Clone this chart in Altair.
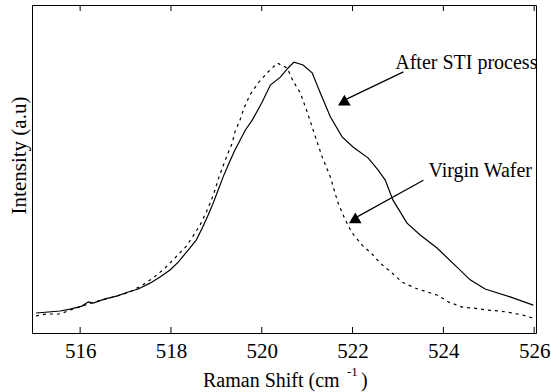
import altair as alt
import pandas as pd

# Raman spectra of the Si peak, intensity in arbitrary units
sti_shift = [515.03, 515.30, 515.56, 515.78, 516.04, 516.18, 516.29, 516.55, 516.82, 517.06,
             517.28, 517.54, 517.76, 517.98, 518.16, 518.38, 518.56, 518.69, 518.82, 518.93,
             519.04, 519.15, 519.28, 519.41, 519.64, 519.79, 520.01, 520.19, 520.41, 520.58,
             520.71, 520.91, 521.11, 521.29, 521.51, 521.77, 522.01, 522.34, 522.56, 522.72,
             522.89, 523.20, 523.49, 523.86, 524.30, 524.59, 524.92, 525.47, 525.98]
sti_intensity = [0.061, 0.064, 0.067, 0.073, 0.082, 0.095, 0.091, 0.104, 0.113, 0.125,
                 0.134, 0.152, 0.171, 0.192, 0.216, 0.253, 0.284, 0.320, 0.360, 0.396,
                 0.436, 0.476, 0.518, 0.558, 0.619, 0.649, 0.704, 0.756, 0.780, 0.808,
                 0.826, 0.817, 0.793, 0.732, 0.659, 0.598, 0.567, 0.534, 0.497, 0.466,
                 0.405, 0.335, 0.299, 0.259, 0.201, 0.162, 0.134, 0.110, 0.085]

virgin_shift = [515.03, 515.27, 515.56, 515.78, 516.04, 516.33, 516.82, 517.10, 517.37, 517.61,
                517.87, 518.09, 518.34, 518.49, 518.64, 518.78, 518.89, 518.97, 519.06, 519.24,
                519.35, 519.41, 519.52, 519.61, 519.74, 519.92, 520.12, 520.34, 520.56, 520.69,
                520.85, 521.00, 521.11, 521.33, 521.51, 521.68, 521.84, 521.99, 522.21, 522.43,
                522.61, 522.87, 523.09, 523.38, 523.64, 523.86, 524.11, 524.41, 524.66, 524.96,
                525.25, 525.52, 525.74, 525.96]
virgin_intensity = [0.052, 0.058, 0.058, 0.070, 0.082, 0.095, 0.113, 0.125, 0.146, 0.168,
                    0.198, 0.229, 0.265, 0.296, 0.329, 0.369, 0.405, 0.436, 0.476, 0.543,
                    0.579, 0.613, 0.649, 0.686, 0.726, 0.762, 0.793, 0.823, 0.808, 0.768,
                    0.732, 0.674, 0.628, 0.537, 0.476, 0.396, 0.345, 0.305, 0.268, 0.241,
                    0.213, 0.183, 0.155, 0.137, 0.125, 0.116, 0.095, 0.079, 0.076, 0.070,
                    0.067, 0.061, 0.055, 0.046]

tick_values = [516, 518, 520, 522, 524, 526]

# Annotation labels with arrows (text anchor, arrow tail, arrow head)
label_text = ["After STI process", "Virgin Wafer"]
label_x = [522.94, 523.67]
label_y = [0.805, 0.476]
arrow_tail_x = [523.12, 523.56]
arrow_tail_y = [0.796, 0.466]
arrow_head_x = [521.82, 522.06]
arrow_head_y = [0.710, 0.351]

FONT = "'Liberation Serif', 'Times New Roman', Times, serif"

sti_df = pd.DataFrame({"shift": sti_shift, "intensity": sti_intensity})
virgin_df = pd.DataFrame({"shift": virgin_shift, "intensity": virgin_intensity})
tick_df = pd.DataFrame({"shift": tick_values})
ann_df = pd.DataFrame({
    "text": label_text, "lx": label_x, "ly": label_y,
    "tx": arrow_tail_x, "ty": arrow_tail_y, "hx": arrow_head_x, "hy": arrow_head_y,
})

x_scale = alt.Scale(domain=[514.94, 526.04], nice=False, zero=False)
y_scale = alt.Scale(domain=[0, 1], nice=False, zero=False)

x_axis = alt.Axis(values=tick_values, title=None, grid=False, domain=False, ticks=False,
                  tickSize=0, labelFont=FONT, labelFontSize=21, labelColor="black",
                  labelPadding=7, labelFlush=False, labelOverlap=False, format="d")

sti_line = alt.Chart(sti_df).mark_line(color="black", strokeWidth=1.2).encode(
    x=alt.X("shift:Q", scale=x_scale, axis=x_axis),
    y=alt.Y("intensity:Q", scale=y_scale, axis=None),
)

virgin_line = alt.Chart(virgin_df).mark_line(
    color="black", strokeWidth=1.2, strokeDash=[3, 4]
).encode(
    x=alt.X("shift:Q", scale=x_scale),
    y=alt.Y("intensity:Q", scale=y_scale),
)

# Inward-pointing ticks on the bottom and top edges of the frame
bottom_ticks = alt.Chart(tick_df).mark_rule(color="black", strokeWidth=1).encode(
    x=alt.X("shift:Q", scale=x_scale), y=alt.value(328), y2=alt.value(322)
)
top_ticks = alt.Chart(tick_df).mark_rule(color="black", strokeWidth=1).encode(
    x=alt.X("shift:Q", scale=x_scale), y=alt.value(0), y2=alt.value(6)
)

arrows = alt.Chart(ann_df).mark_rule(color="black", strokeWidth=1.2).encode(
    x=alt.X("tx:Q", scale=x_scale), y=alt.Y("ty:Q", scale=y_scale),
    x2="hx:Q", y2="hy:Q",
)
heads = alt.Chart(ann_df).mark_point(
    shape="triangle-up", filled=True, size=160, color="black", opacity=1
).encode(
    x=alt.X("hx:Q", scale=x_scale), y=alt.Y("hy:Q", scale=y_scale)
)
labels = alt.Chart(ann_df).mark_text(
    align="left", baseline="alphabetic", font=FONT, fontSize=20, color="black"
).encode(
    x=alt.X("lx:Q", scale=x_scale), y=alt.Y("ly:Q", scale=y_scale), text="text:N"
)

# Axis titles
y_title = alt.Chart(pd.DataFrame({"t": ["Intensity (a.u)"]})).mark_text(
    angle=270, align="center", baseline="alphabetic", font=FONT, fontSize=21, color="black"
).encode(x=alt.value(-6.5), y=alt.value(150.5), text="t:N")

x_title_main = alt.Chart(pd.DataFrame({"t": ["Raman Shift (cm"]})).mark_text(
    align="left", baseline="alphabetic", font=FONT, fontSize=20, color="black"
).encode(x=alt.value(171), y=alt.value(382), text="t:N")
x_title_sup = alt.Chart(pd.DataFrame({"t": ["-1"]})).mark_text(
    align="left", baseline="alphabetic", font=FONT, fontSize=13, color="black"
).encode(x=alt.value(315), y=alt.value(371), text="t:N")
x_title_close = alt.Chart(pd.DataFrame({"t": [")"]})).mark_text(
    align="left", baseline="alphabetic", font=FONT, fontSize=20, color="black"
).encode(x=alt.value(329), y=alt.value(382), text="t:N")

chart = alt.layer(
    sti_line, virgin_line, bottom_ticks, top_ticks, arrows, heads, labels,
    y_title, x_title_main, x_title_sup, x_title_close,
).properties(
    width=504, height=328,
    autosize=alt.AutoSizeParams(type="none"),
    padding={"left": 32, "top": 5, "right": 15, "bottom": 59},
    background="white",
).configure_view(
    stroke="black", strokeWidth=1
)

chart.save("out.html", embed_options={"renderer": "svg", "actions": False})
